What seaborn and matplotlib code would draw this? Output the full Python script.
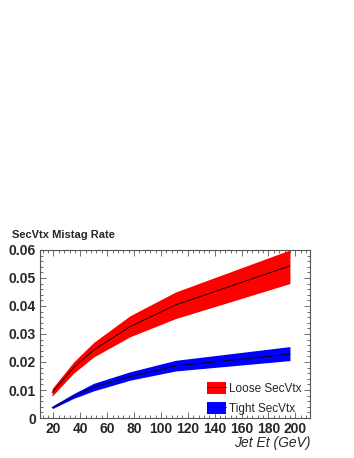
import numpy as np
import pandas as pd
import matplotlib
matplotlib.use("Agg")
import matplotlib.pyplot as plt
import seaborn as sns
from matplotlib.patches import Patch
from matplotlib.lines import Line2D
from matplotlib.legend_handler import HandlerTuple
from matplotlib.ticker import MultipleLocator

jet_et = [19, 35, 50, 77, 111, 196]
loose_mid = [0.0091, 0.0180, 0.0243, 0.0326, 0.0404, 0.0543]
loose_lo = [0.0078, 0.0160, 0.0218, 0.0290, 0.0355, 0.0480]
loose_hi = [0.0105, 0.0200, 0.0270, 0.0365, 0.0450, 0.0600]
tight_mid = [0.0037, 0.0078, 0.0110, 0.0148, 0.0186, 0.0228]
tight_lo = [0.0033, 0.0070, 0.0097, 0.0135, 0.0168, 0.0205]
tight_hi = [0.0042, 0.0087, 0.0124, 0.0165, 0.0206, 0.0255]
labels = ["Loose SecVtx", "Tight SecVtx"]

sns.set_style("white")
plt.rcParams['font.family'] = ['Liberation Sans', 'DejaVu Sans']

fig = plt.figure(figsize=(3.54, 4.58), dpi=100)
ax = fig.add_axes([0.113, 0.0873, 0.763, 0.367])

df = pd.DataFrame({
    "x": jet_et * 2,
    "y": loose_mid + tight_mid,
    "s": [labels[0]] * len(jet_et) + [labels[1]] * len(jet_et),
})

ax.fill_between(jet_et, loose_lo, loose_hi, color="#ff0000", linewidth=0, zorder=1)
ax.fill_between(jet_et, tight_lo, tight_hi, color="#0000ff", linewidth=0, zorder=1)
sns.lineplot(data=df, x="x", y="y", hue="s", palette=["black", "black"],
             linewidth=0.6, ax=ax, legend=False, zorder=2)

ax.set_xlim(10, 211)
ax.set_ylim(0, 0.06)
ax.xaxis.set_major_locator(MultipleLocator(20))
ax.xaxis.set_minor_locator(MultipleLocator(4))
ax.yaxis.set_major_locator(MultipleLocator(0.01))
ax.yaxis.set_minor_locator(MultipleLocator(0.002))
ax.set_yticks([0, 0.01, 0.02, 0.03, 0.04, 0.05, 0.06])
ax.set_yticklabels(["0", "0.01", "0.02", "0.03", "0.04", "0.05", "0.06"])
ax.tick_params(which="both", direction="in", top=True, right=True, bottom=True, left=True,
               color="#555555", width=0.6)
ax.tick_params(which="major", length=4, labelsize=10, pad=3)
ax.tick_params(which="minor", length=2)
for lab in ax.get_xticklabels() + ax.get_yticklabels():
    lab.set_fontweight("bold")
for sp in ax.spines.values():
    sp.set_color("#555555")
    sp.set_linewidth(0.8)

ax.set_xlabel("")
ax.set_ylabel("")
fig.text(0.876, 0.018, "Jet Et (GeV)", ha="right", va="bottom", fontsize=10, style="italic")
fig.text(0.033, 0.475, "SecVtx Mistag Rate", ha="left", va="bottom", fontsize=8, fontweight="bold")

h1 = (Patch(facecolor="#ff0000", edgecolor="none"), Line2D([], [], color="black", lw=0.6))
h2 = (Patch(facecolor="#0000ff", edgecolor="none"), Line2D([], [], color="black", lw=0.6))
ax.legend([h1, h2], labels, handler_map={tuple: HandlerTuple(ndivide=1, pad=0)},
          loc="lower right", bbox_to_anchor=(1.0, -0.03), frameon=False, fontsize=8.5,
          handlelength=1.6, handleheight=1.2, handletextpad=0.3, labelspacing=0.6,
          borderaxespad=0.3)

fig.savefig("out.png", dpi=100)
